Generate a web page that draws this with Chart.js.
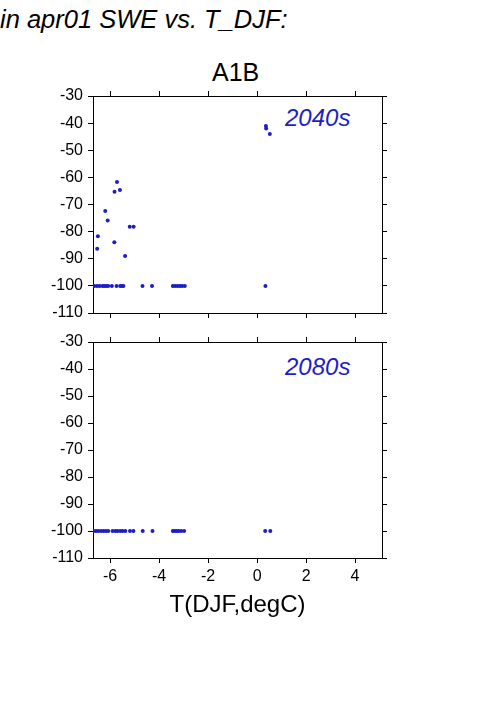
<!DOCTYPE html>
<html>
<head>
<meta charset="utf-8">
<script src="https://cdn.jsdelivr.net/npm/chart.js@4.4.1/dist/chart.umd.min.js"></script>
<style>
    body { margin: 0; background: #fff; width: 501px; height: 709px; overflow: hidden; position: relative; font-family: 'Liberation Sans', Arial, Helvetica, sans-serif; }
    .txt { position: absolute; line-height: 1; white-space: nowrap; }
    canvas { position: absolute; left: 0; }
</style>
</head>
<body>
<div class="txt" style="left:0px; top:7px; font-size:25.5px; font-style:italic;">in apr01 SWE vs. T_DJF:</div>
<div class="txt" style="left:212px; top:60px; font-size:25px;">A1B</div>
<div class="txt" style="left:285px; top:106px; font-size:24px; font-style:italic; color:#1e1ec8;">2040s</div>
<div class="txt" style="left:285px; top:355px; font-size:24px; font-style:italic; color:#1e1ec8;">2080s</div>
<canvas id="chart2040" width="501" height="257" style="top:76px"></canvas>
<canvas id="chart2080" width="501" height="302" style="top:322px"></canvas>
<script>
// Axis setup
const xMin = -6.7;
const xMax = 5.1;
const xTicks = [-6, -4, -2, 0, 2, 4];
const yTicks = [-110, -100, -90, -80, -70, -60, -50, -40, -30];
const xTitle = 'T(DJF,degC)';

// 2040s: T_DJF vs apr01 SWE change
const t2040 = [0.36, 0.37, 0.52, -5.72, -5.82, -5.6, -6.2, -6.1, -6.5, -6.53, -5.83, -5.2, -5.04, -5.39,
    -6.65, -6.54, -6.43, -6.31, -6.24, -6.16, -6.08, -5.93, -5.74, -5.59, -5.52, -5.46, -4.68, -4.29,
    -3.44, -3.35, -3.25, -3.15, -3.06, -2.95, 0.34];
const swe2040 = [-41.1, -42.0, -44.0, -61.7, -65.3, -64.7, -72.4, -75.9, -81.7, -86.3, -83.9, -78.2, -78.2, -89.0,
    -100, -100, -100, -100, -100, -100, -100, -100, -100, -100, -100, -100, -100, -100,
    -100, -100, -100, -100, -100, -100, -100];

// 2080s
const t2080 = [-6.68, -6.58, -6.48, -6.37, -6.27, -6.17, -6.08, -5.9, -5.79, -5.7, -5.59, -5.49, -5.38,
    -5.19, -5.05, -4.67, -4.27, -3.44, -3.36, -3.28, -3.2, -3.1, -2.98, 0.33, 0.54];
const swe2080 = [-100, -100, -100, -100, -100, -100, -100, -100, -100, -100, -100, -100, -100,
    -100, -100, -100, -100, -100, -100, -100, -100, -100, -100, -100, -100];

const FONT = "'Liberation Sans', Arial, Helvetica, sans-serif";
const DOT_COLOR = '#1c1cc8';

function setTicks(list) {
    return (scale) => { scale.ticks = list.map(v => ({ value: v })); };
}

function frameAxis(extra) {
    return Object.assign({
        type: 'linear',
        grid: { drawOnChartArea: false, drawTicks: true, tickLength: 5, tickColor: '#000', tickWidth: 1 },
        border: { display: true, color: '#000', width: 1 },
        ticks: { display: false }
    }, extra);
}

function makeChart(id, xs, ys, showXLabels, bottomHeight) {
    const ctx = document.getElementById(id).getContext('2d');
    return new Chart(ctx, {
        type: 'scatter',
        data: {
            datasets: [{
                data: xs.map((x, i) => ({ x: x, y: ys[i] })),
                backgroundColor: DOT_COLOR,
                borderWidth: 0,
                pointRadius: 2,
                pointHoverRadius: 2
            }]
        },
        options: {
            responsive: false,
            animation: false,
            devicePixelRatio: 1,
            layout: { padding: 0 },
            plugins: { legend: { display: false }, tooltip: { enabled: false } },
            scales: {
                x: frameAxis({
                    position: 'bottom', min: xMin, max: xMax,
                    afterBuildTicks: setTicks(xTicks),
                    afterFit: (s) => { s.height = bottomHeight; },
                    ticks: { display: showXLabels, color: '#000', padding: 4, maxRotation: 0, font: { family: FONT, size: 16 } },
                    title: { display: showXLabels, text: xTitle, color: '#000', font: { family: FONT, size: 24 }, padding: { top: 4 } }
                }),
                xTop: frameAxis({
                    position: 'top', min: xMin, max: xMax,
                    afterBuildTicks: setTicks(xTicks),
                    afterFit: (s) => { s.height = 20; }
                }),
                y: frameAxis({
                    position: 'left', min: -110, max: -30,
                    afterBuildTicks: setTicks(yTicks),
                    afterFit: (s) => { s.width = 93; },
                    ticks: { display: true, color: '#000', padding: 5, font: { family: FONT, size: 16 } }
                }),
                yRight: frameAxis({
                    position: 'right', min: -110, max: -30,
                    afterBuildTicks: setTicks(yTicks),
                    afterFit: (s) => { s.width = 119; }
                })
            }
        }
    });
}

makeChart('chart2040', t2040, swe2040, false, 20);
makeChart('chart2080', t2080, swe2080, true, 66);
</script>
</body>
</html>
